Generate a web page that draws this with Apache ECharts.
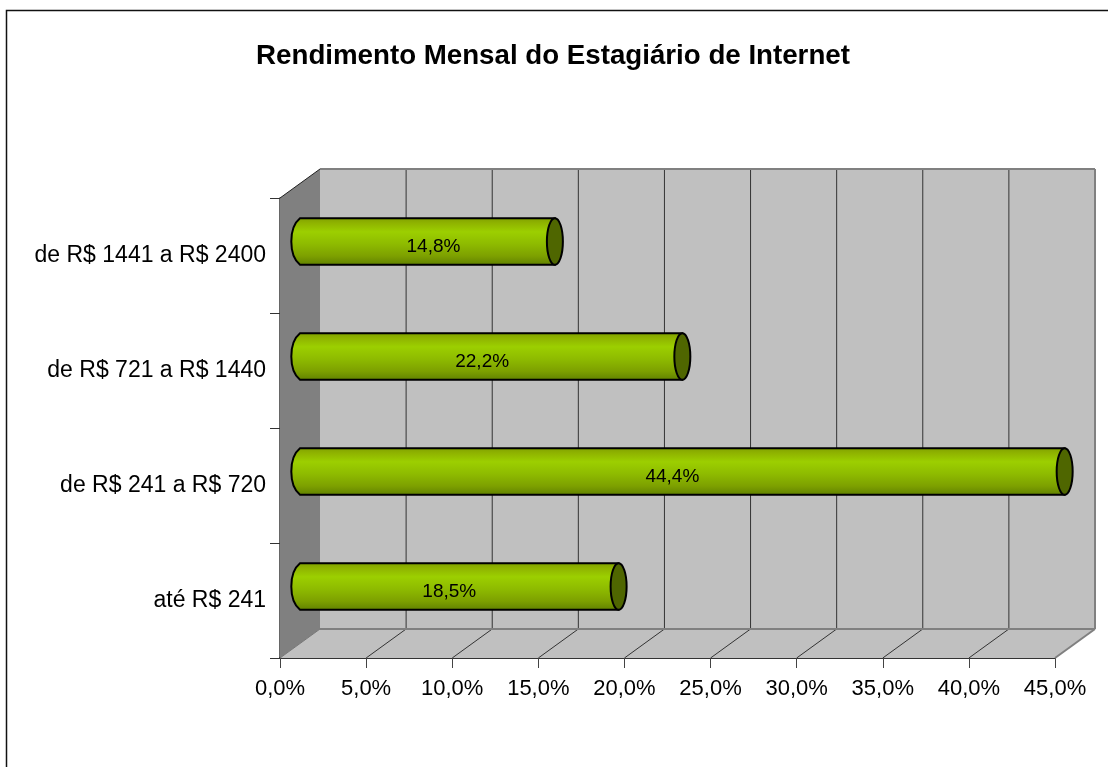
<!DOCTYPE html>
<html><head><meta charset="utf-8">
<style>html,body{margin:0;padding:0;background:#fff}#c{width:1108px;height:767px}</style>
<script src="https://cdn.jsdelivr.net/npm/echarts@6/dist/echarts.min.js"></script>
</head><body><div id="c"></div>
<script>
const categories = ['até R$ 241','de R$ 241 a R$ 720','de R$ 721 a R$ 1440','de R$ 1441 a R$ 2400'];
const values = [18.5,44.4,22.2,14.8];
const valueLabels = ['18,5%','44,4%','22,2%','14,8%'];
const gridTicks = [0,5,10,15,20,25,30,35,40,45];
const labelShift = [10,10,11,26];
const DX=40, DY=-29, FONT='"Liberation Sans",Arial,sans-serif';
const chart = echarts.init(document.getElementById('c'),null,{renderer:'canvas'});

function renderWalls(params,api){
  const cs=params.coordSys;
  const x0=cs.x,x1=cs.x+cs.width,yT=cs.y,yB=cs.y+cs.height;
  const wallStroke={stroke:'#808080',lineWidth:2};
  const kids=[
    {type:'polygon',shape:{points:[[x0,yB],[x0+DX,yB+DY],[x1+DX,yB+DY],[x1,yB]]},style:{fill:'#c0c0c0',stroke:null}},
    {type:'polygon',shape:{points:[[x0+DX,yT+DY],[x1+DX,yT+DY],[x1+DX,yB+DY],[x0+DX,yB+DY]]},style:{fill:'#c0c0c0',stroke:null}},
    {type:'polygon',shape:{points:[[x0,yT],[x0+DX,yT+DY],[x0+DX,yB+DY],[x0,yB]]},style:{fill:'#808080',stroke:null}}
  ];
  gridTicks.forEach(t=>{
    if(t===0||t===45)return;
    const x=api.coord([t,0])[0];
    kids.push({type:'line',shape:{x1:x+DX,y1:yT+DY,x2:x+DX,y2:yB+DY},style:{stroke:'#333',lineWidth:1}});
    kids.push({type:'line',shape:{x1:x,y1:yB,x2:x+DX,y2:yB+DY},style:{stroke:'#333',lineWidth:1}});
  });
  kids.push(
    {type:'line',shape:{x1:x0+DX,y1:yT+DY,x2:x1+DX,y2:yT+DY},style:wallStroke},
    {type:'line',shape:{x1:x1+DX,y1:yT+DY,x2:x1+DX,y2:yB+DY},style:wallStroke},
    {type:'line',shape:{x1:x0+DX,y1:yB+DY,x2:x1+DX,y2:yB+DY},style:wallStroke},
    {type:'line',shape:{x1:x1+DX,y1:yB+DY,x2:x1,y2:yB},style:wallStroke},
    {type:'line',shape:{x1:x0,y1:yT,x2:x0+DX,y2:yT+DY},style:{stroke:'#222',lineWidth:1}},
    {type:'line',shape:{x1:x0,y1:yB,x2:x0+DX,y2:yB+DY},style:{stroke:'#777',lineWidth:1}}
  );
  return {type:'group',children:kids};
}

function renderBar(params,api){
  const i=api.value(2);
  const p=api.coord([api.value(0),i]);
  const z=api.coord([0,i]);
  const band=api.size([0,1])[1];
  const h=band*0.405;
  const cy=p[1]+DY/2+0.5, xr=p[0]+DX/2, xl=z[0]+DX/2-8;
  const yt=cy-h/2,yb=cy+h/2,rx=8;
  return {type:'group',children:[
    {type:'path',shape:{pathData:`M${xl+rx} ${yt} L${xr} ${yt} L${xr} ${yb} L${xl+rx} ${yb} C${xl-rx*0.45} ${yb-h*0.2} ${xl-rx*0.45} ${yt+h*0.2} ${xl+rx} ${yt} Z`},
     style:{fill:new echarts.graphic.LinearGradient(0,0,0,1,[
      {offset:0,color:'#7f9f00'},{offset:0.12,color:'#8fb300'},{offset:0.3,color:'#9ccf00'},
      {offset:0.55,color:'#8ebb00'},{offset:0.8,color:'#7da000'},{offset:1,color:'#5f7f00'}]),
      stroke:'#000',lineWidth:2}},
    {type:'ellipse',shape:{cx:xr,cy:cy,rx:rx,ry:h/2},style:{fill:'#4f6600',stroke:'#000',lineWidth:2}},
    {type:'text',style:{x:(z[0]+p[0])/2+labelShift[i],y:cy+5,text:valueLabels[i],font:'19px '+FONT,fill:'#000',align:'center',verticalAlign:'middle'}}
  ]};
}

chart.setOption({
  animation:false,
  backgroundColor:'#fff',
  title:{text:'Rendimento Mensal do Estagiário de Internet',left:548,top:37,textAlign:'center',
    textStyle:{fontFamily:FONT,fontWeight:'bold',fontSize:27.7,color:'#000'}},
  grid:{left:280,top:198,width:775,height:460,containLabel:false},
  xAxis:{type:'value',min:0,max:45,interval:5,
    axisLine:{show:true,onZero:false,lineStyle:{color:'#333',width:2}},
    axisTick:{show:true,length:10,lineStyle:{color:'#444',width:1}},
    axisLabel:{margin:20,fontFamily:FONT,fontSize:22,color:'#000',hideOverlap:false,
      formatter:v=>v.toFixed(1).replace('.',',')+'%'},
    splitLine:{show:false}},
  yAxis:{type:'category',data:categories,
    axisLine:{show:true,lineStyle:{color:'#333',width:1.5}},
    axisTick:{show:true,length:10,lineStyle:{color:'#333',width:1}},
    axisLabel:{margin:14,fontFamily:FONT,fontSize:23,color:'#000'},
    splitLine:{show:false}},
  series:[
    {type:'custom',coordinateSystem:'cartesian2d',silent:true,z:1,renderItem:renderWalls,data:[[0,0]],clip:false,encode:{x:0,y:1}},
    {type:'custom',coordinateSystem:'cartesian2d',silent:true,z:3,renderItem:renderBar,clip:false,
     data:values.map((v,i)=>[v,i,i]),encode:{x:0,y:1}}
  ],
  graphic:[{type:'rect',z:100,silent:true,shape:{x:6.5,y:10.5,width:1200,height:900},style:{fill:null,stroke:'#111',lineWidth:1.5}}]
});
</script></body></html>
